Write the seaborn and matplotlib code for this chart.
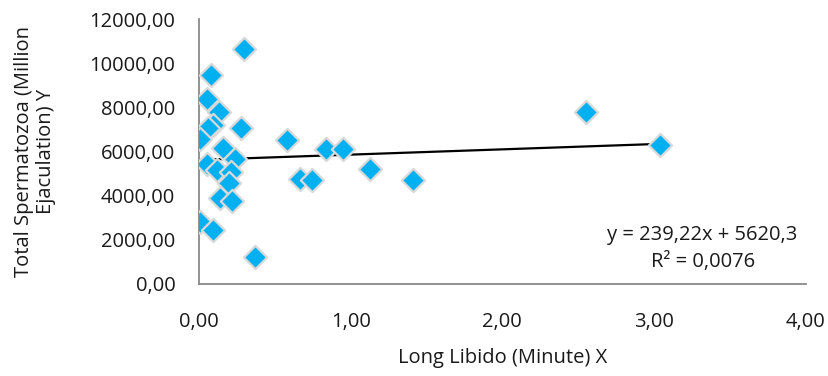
import matplotlib
matplotlib.use("Agg")
import matplotlib.pyplot as plt
import matplotlib.ticker as mticker
import seaborn as sns
import numpy as np
import pandas as pd

# Data
libido_x = [0.30, 0.08, 0.05, 0.13, 0.09, 0.06, 0.28, 0.01, 0.58, 0.16,
            0.24, 0.05, 0.12, 0.21, 0.20, 0.14, 0.22, 0.01, 0.09, 0.37,
            0.84, 0.95, 0.665, 0.745, 1.13, 1.41, 2.55, 3.04]
sperm_y = [10650, 9450, 8400, 7780, 7200, 7080, 7050, 6560, 6530, 6150,
           5680, 5450, 5180, 5080, 4580, 3900, 3740, 2800, 2430, 1220,
           6100, 6100, 4760, 4720, 5190, 4710, 7790, 6300]
trend_slope = 239.22
trend_intercept = 5620.3
r_squared = 0.0076
x_ticks = [0, 1, 2, 3, 4]
y_ticks = [0, 2000, 4000, 6000, 8000, 10000, 12000]

df = pd.DataFrame({"x": libido_x, "y": sperm_y})

sns.set_theme(style="white")
plt.rcParams['font.family'] = ['Open Sans', 'DejaVu Sans']

TXT = "#1a1a1a"
fig = plt.figure(figsize=(8.29, 3.76), dpi=100)
ax = fig.add_axes([0.240, 0.245, 0.732, 0.704])

sns.scatterplot(data=df, x="x", y="y", ax=ax, marker="D", s=140,
                color="#00B0F0", edgecolor="#D9D9D9", linewidth=1.6, zorder=3)

xl = np.array([min(libido_x), max(libido_x)])
ax.plot(xl, trend_slope * xl + trend_intercept, color="black", lw=1.6, zorder=2)

eq = f"y = {trend_slope:.2f}x + {trend_intercept:.1f}".replace(".", ",")
r2 = f"R² = {r_squared:.4f}".replace(".", ",")
ax.text(3.32, 1620, eq + "\n" + r2, ha="center", va="center",
        multialignment="center", fontsize=14.5, color=TXT, linespacing=1.45)

ax.set_xlim(0, 4)
ax.set_ylim(0, 12000)
ax.set_xticks(x_ticks)
ax.set_yticks(y_ticks)
fmt = mticker.FuncFormatter(lambda v, p: f"{v:.2f}".replace(".", ","))
ax.xaxis.set_major_formatter(fmt)
ax.yaxis.set_major_formatter(fmt)

for s in ["top", "right"]:
    ax.spines[s].set_visible(False)
for s in ["left", "bottom"]:
    ax.spines[s].set_color("#898989")
    ax.spines[s].set_linewidth(1.3)

ax.tick_params(axis="both", which="major", direction="out", length=5, width=1.2,
               color="#898989", labelsize=14.5, labelcolor=TXT)
ax.tick_params(axis="x", pad=15)
ax.tick_params(axis="y", pad=12)

ax.set_xlabel("Long Libido (Minute) X", fontsize=14.5, color=TXT, labelpad=12)
ax.set_ylabel("Total Spermatozoa (Million\nEjaculation) Y", fontsize=14.5,
              color=TXT, labelpad=24, linespacing=1.15)

fig.savefig("out.png", dpi=100)
